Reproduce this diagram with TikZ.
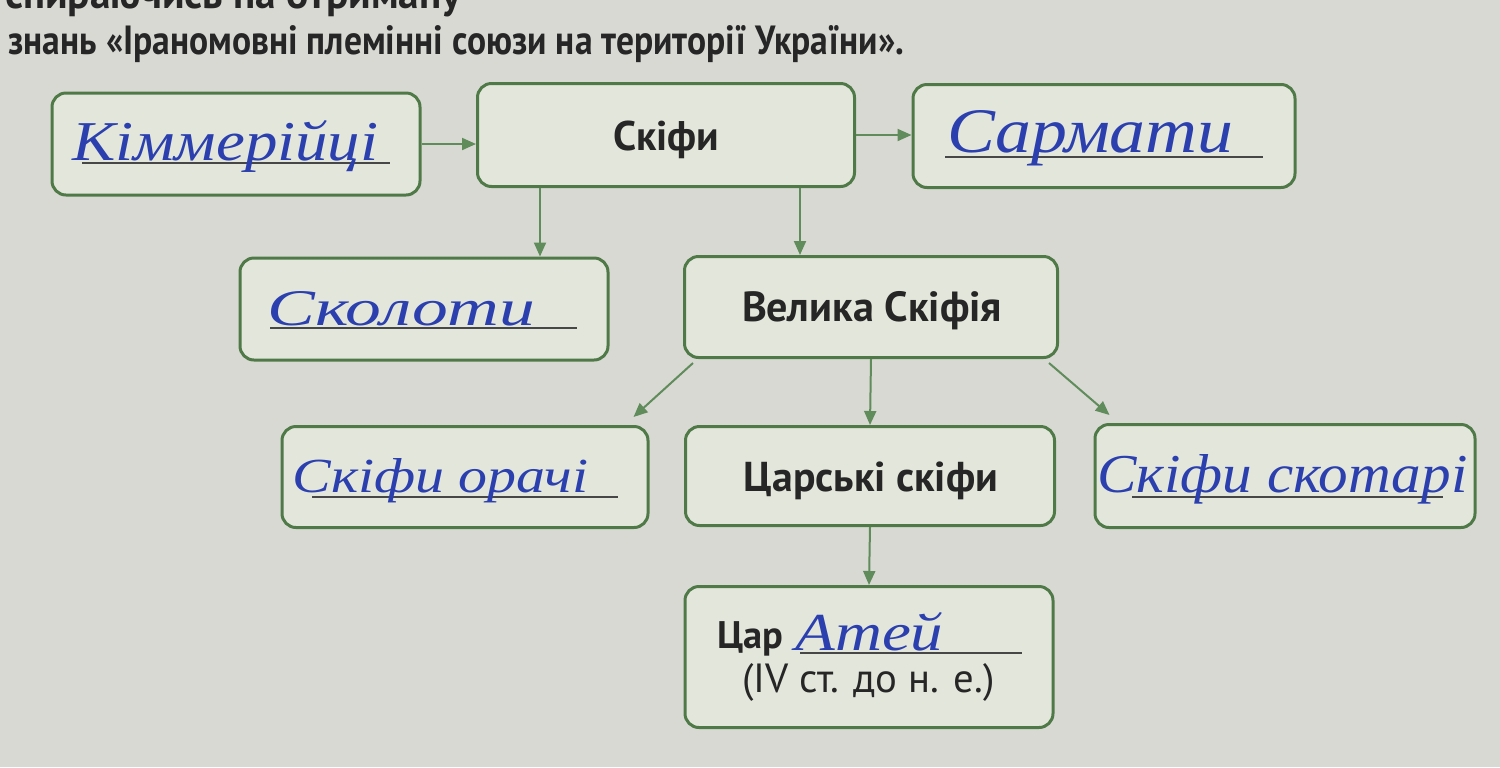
\documentclass[tikz,border=0pt]{standalone}
\usepackage{fontspec}
\setmainfont{PT Sans}
\newfontfamily\hand{Liberation Serif}
\usetikzlibrary{arrows.meta,calc}
\definecolor{bg}{HTML}{D9D9D4}
\definecolor{boxfill}{HTML}{E3E6DB}
\definecolor{boxline}{HTML}{4F7A48}
\definecolor{arr}{HTML}{5F8C5A}
\definecolor{ink}{HTML}{2B3FAE}
\definecolor{txt}{HTML}{262626}
\begin{document}
\begin{tikzpicture}[x=0.5pt,y=-0.5pt,
  box/.style={draw=boxline,fill=boxfill,line width=1.5pt,rounded corners=7pt,inner sep=0pt},
  conn/.style={draw=arr,line width=1pt,-{Triangle[length=7pt,width=6pt]}},
  uline/.style={draw=txt!85,line width=0.9pt},
  hw/.style={inner sep=0pt,text=ink},
  pt/.style={inner sep=0pt,text=txt}]
\fill[bg] (0,0) rectangle (1500,767);
\useasboundingbox (0,0) rectangle (1500,767);

% heading
\node[pt,anchor=base west] (top0) at (5,8) {\resizebox{228pt}{!}{\bfseries спираючись на отриману}};
\node[pt,anchor=base west] (top1) at (8,54) {\resizebox{448pt}{14.5pt}{\bfseries знань «Іраномовні племінні союзи на території України».}};

% boxes
\node[box,minimum width=184pt,minimum height=51pt] (kim) at (236,144) {};
\node[box,minimum width=188.5pt,minimum height=51.5pt] (skify) at (666,135) {};
\node[box,minimum width=191pt,minimum height=51.5pt] (sarm) at (1104,136) {};
\node[box,minimum width=184pt,minimum height=51pt] (skol) at (424,309) {};
\node[box,minimum width=186.5pt,minimum height=50.5pt] (velyka) at (871,307) {};
\node[box,minimum width=183pt,minimum height=50.5pt] (orachi) at (465,477) {};
\node[box,minimum width=184.5pt,minimum height=49.5pt] (tsarski) at (870,476) {};
\node[box,minimum width=190pt,minimum height=51.5pt] (skotari) at (1285,476) {};
\node[box,minimum width=184pt,minimum height=70.5pt] (tsar) at (869,657) {};

% printed labels
\node[pt] (tskify) at (666,140) {\resizebox{53pt}{!}{\bfseries Скіфи}};
\node[pt] (tvelyka) at (872,311) {\resizebox{130pt}{!}{\bfseries Велика Скіфія}};
\node[pt] (ttsarski) at (871,481) {\resizebox{127pt}{!}{\bfseries Царські скіфи}};
\node[pt,anchor=base west] (ttsar) at (717,648) {\resizebox{33pt}{!}{\bfseries Цар}};
\node[pt,anchor=base west] (tdate) at (742,692) {\resizebox{126pt}{!}{(IV ст. до н. е.)}};

% underlines
\draw[uline] (82,163) -- (390,163);
\draw[uline] (945,157) -- (1263,157);
\draw[uline] (270,328) -- (577,328);
\draw[uline] (312,497) -- (618,497);
\draw[uline] (1132,497) -- (1443,497);
\draw[uline] (800,653) -- (1022,653);

% handwriting
\node[hw,anchor=base west] (hkim) at (72,160) {\resizebox{153pt}{20pt}{\hand\itshape Кіммерійці}};
\node[hw,anchor=base west] (hsarm) at (947,152) {\resizebox{143pt}{21pt}{\hand\itshape Сармати}};
\node[hw,anchor=base west] (hskol) at (267,325) {\resizebox{134pt}{17pt}{\hand\itshape Сколоти}};
\node[hw,anchor=base west] (horachi) at (292,492) {\resizebox{148pt}{17pt}{\hand\itshape Скіфи орачі}};
\node[hw,anchor=base west] (hskotari) at (1097,492) {\resizebox{185pt}{19pt}{\hand\itshape Скіфи скотарі}};
\node[hw,anchor=base west] (hatei) at (795,650) {\resizebox{74pt}{19pt}{\hand\itshape Атей}};

% connectors
\coordinate (c1) at (540,0);
\coordinate (c2) at (800,0);
\draw[conn] (kim.east) -- (kim.east -| skify.west);
\draw[conn] (skify.east) -- (skify.east -| sarm.west);
\draw[conn] (skify.south -| c1) -- (skol.north -| c1);
\draw[conn] (skify.south -| c2) -- (velyka.north -| c2);
\draw[conn] (velyka.south) -- (tsarski.north);
\draw[conn] (tsarski.south) -- (tsar.north);
\draw[conn] ($(velyka.south west)+(10,4)$) -- ($(orachi.north east)+(-16,-8)$);
\draw[conn] ($(velyka.south east)+(-10,4)$) -- ($(skotari.north west)+(16,-8)$);
\end{tikzpicture}
\end{document}
